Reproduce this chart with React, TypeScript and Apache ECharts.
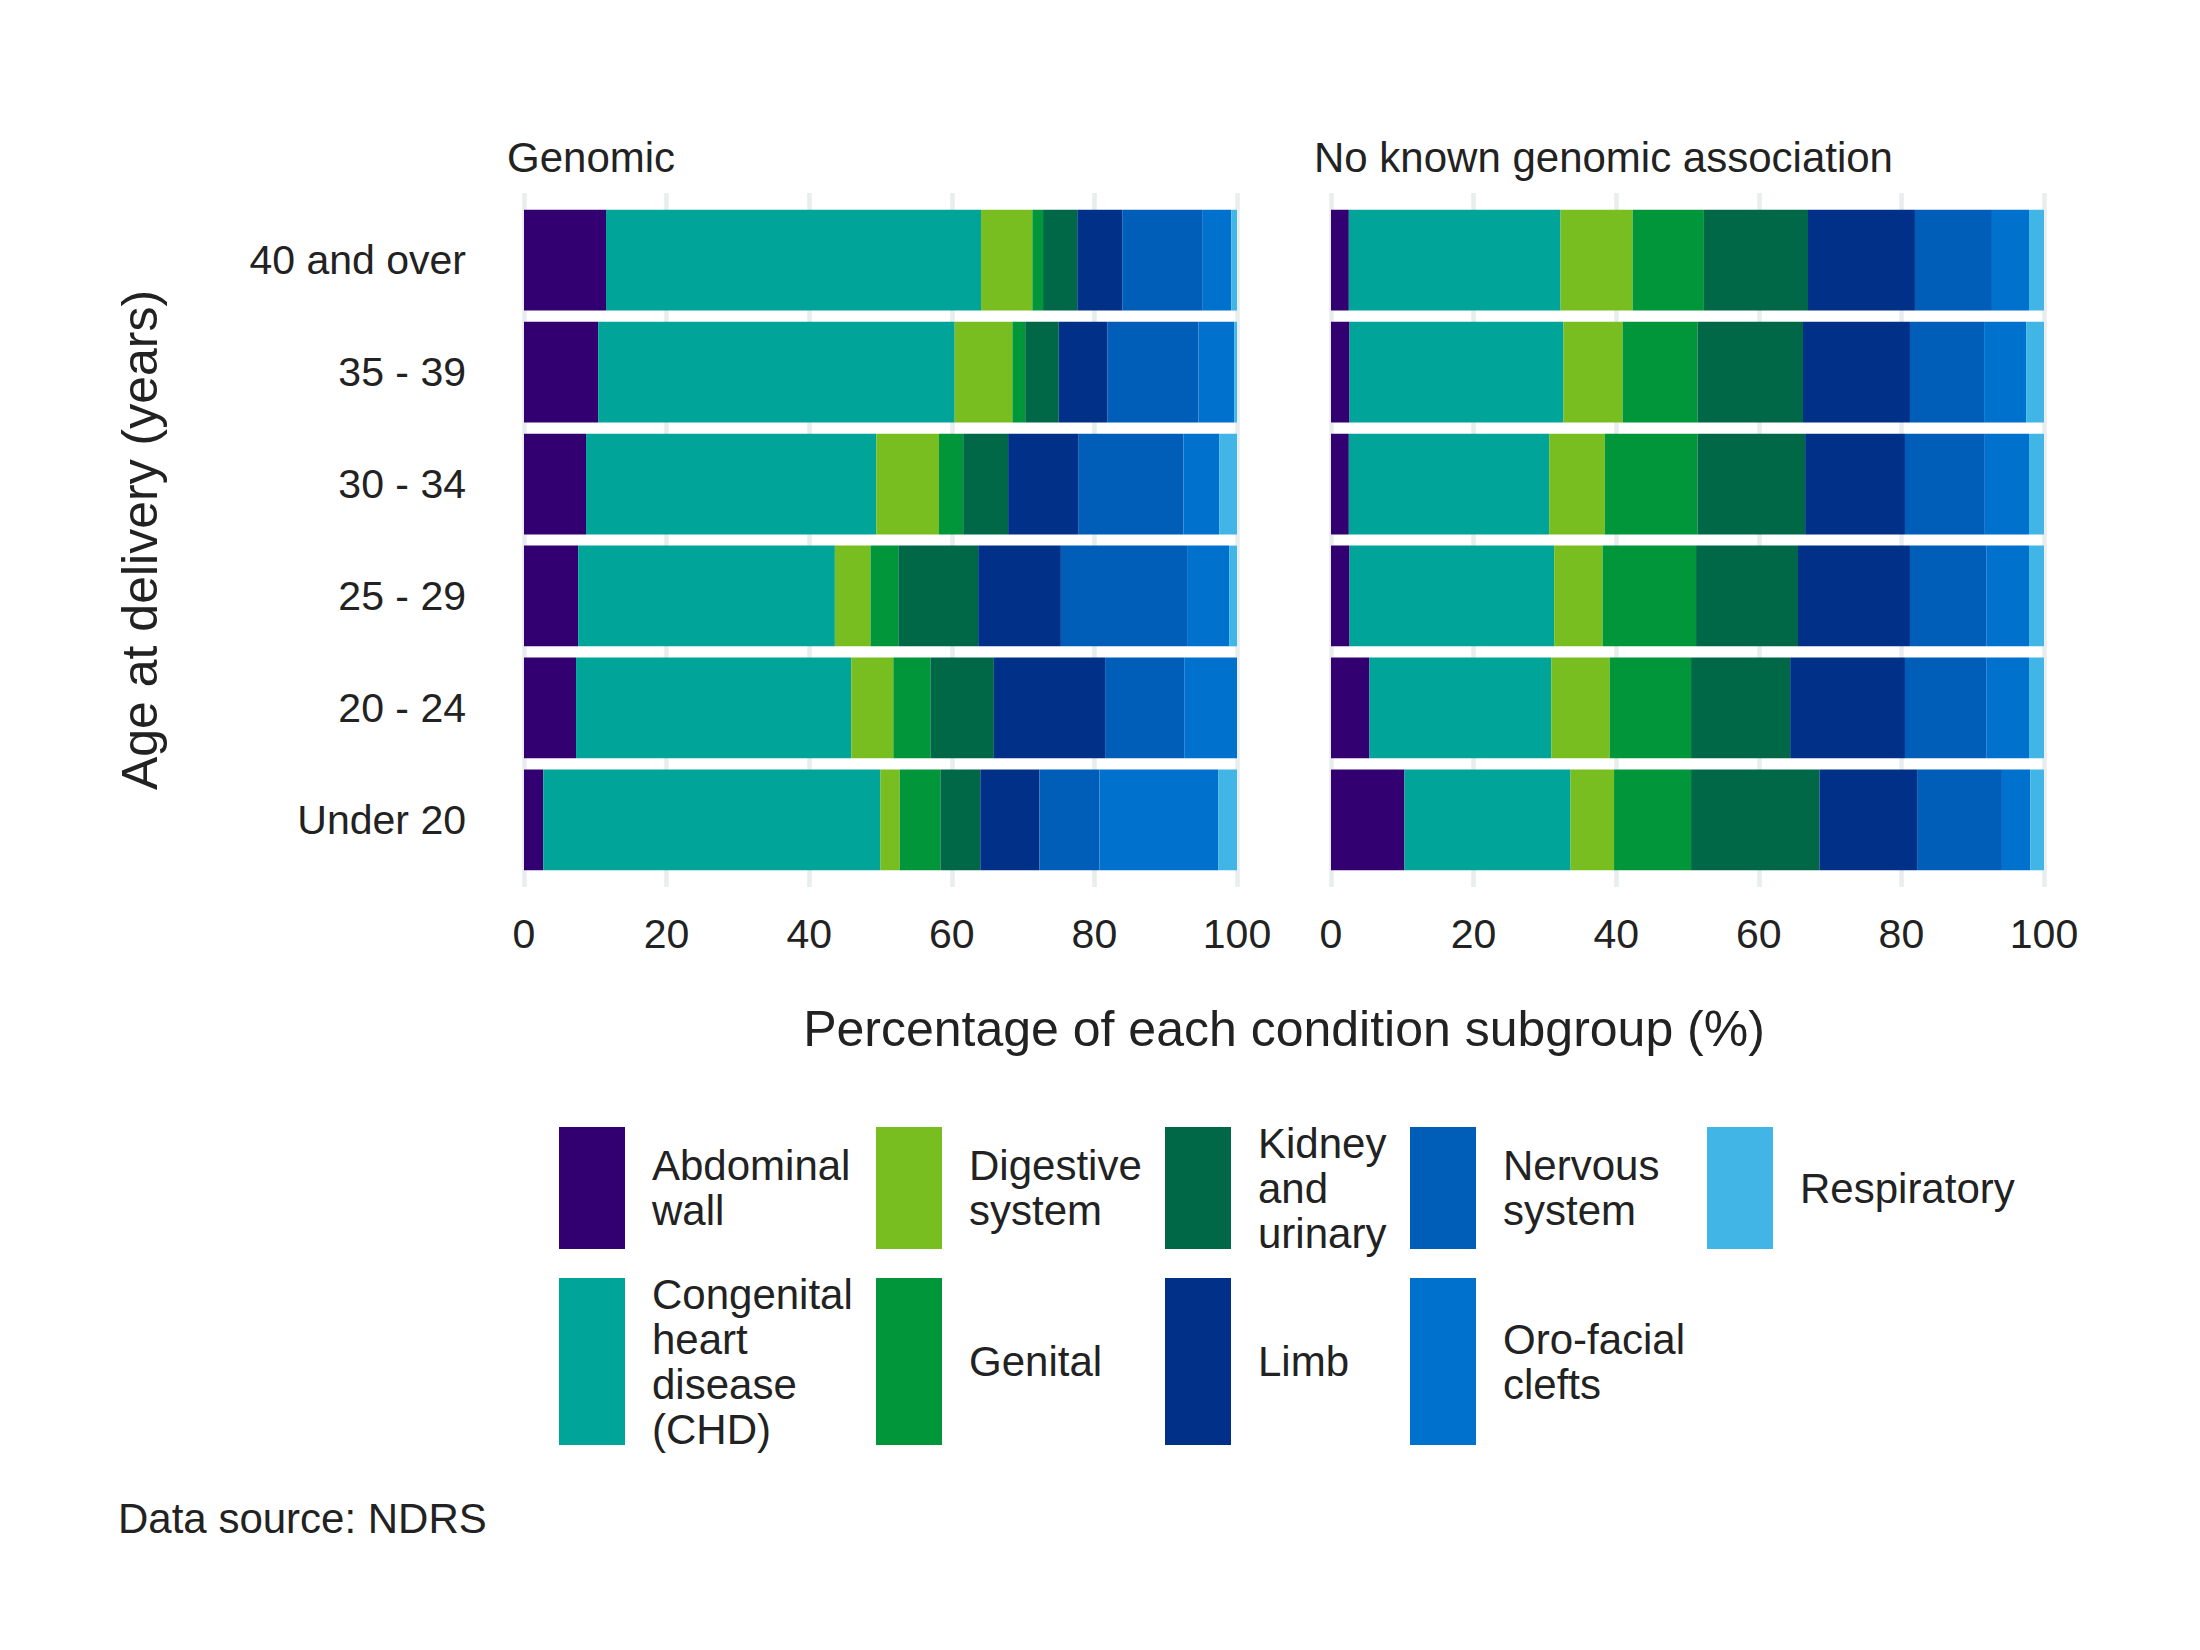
import React, { useEffect, useRef } from 'react';
import * as echarts from 'echarts';

// Age groups, top to bottom
const ageGroups = ['40 and over', '35 - 39', '30 - 34', '25 - 29', '20 - 24', 'Under 20'];

const panelTitles = ['Genomic', 'No known genomic association'];

const conditions = [
  'Abdominal wall',
  'Congenital heart disease (CHD)',
  'Digestive system',
  'Genital',
  'Kidney and urinary',
  'Limb',
  'Nervous system',
  'Oro-facial clefts',
  'Respiratory',
];

const legendLabels = [
  'Abdominal\nwall',
  'Congenital\nheart\ndisease\n(CHD)',
  'Digestive\nsystem',
  'Genital',
  'Kidney\nand\nurinary',
  'Limb',
  'Nervous\nsystem',
  'Oro-facial\nclefts',
  'Respiratory',
];

const conditionColours = [
  '#330072', '#00A499', '#78BE20', '#009639', '#006747',
  '#003087', '#005EB8', '#0072CE', '#41B6E6',
];

// % of each condition subgroup, one row per age group, columns follow `conditions`
const genomicShares = [
  [11.5, 52.6, 7.2, 1.5, 4.8, 6.3, 11.3, 4.0, 0.8],
  [10.4, 50.0, 8.1, 1.8, 4.7, 6.8, 12.8, 5.0, 0.4],
  [8.7, 40.7, 8.8, 3.4, 6.3, 9.9, 14.7, 5.0, 2.5],
  [7.6, 36.0, 5.0, 3.9, 11.2, 11.6, 17.7, 5.9, 1.1],
  [7.3, 38.6, 5.9, 5.2, 8.9, 15.6, 11.1, 7.4, 0],
  [2.7, 47.3, 2.7, 5.7, 5.6, 8.3, 8.4, 16.7, 2.6],
];

const noGenomicShares = [
  [2.5, 29.7, 10.1, 10.0, 14.6, 15.0, 10.8, 5.2, 2.1],
  [2.6, 30.0, 8.3, 10.5, 14.8, 15.0, 10.4, 5.9, 2.5],
  [2.5, 28.1, 7.8, 13.0, 15.1, 14.0, 11.2, 6.2, 2.1],
  [2.6, 28.7, 6.8, 13.1, 14.3, 15.7, 10.7, 6.0, 2.1],
  [5.4, 25.5, 8.2, 11.4, 13.9, 16.1, 11.4, 6.0, 2.1],
  [10.3, 23.3, 6.1, 10.8, 18.0, 13.7, 11.9, 4.0, 1.9],
];

const xTicks = [0, 20, 40, 60, 80, 100];

const FONT = "'Liberation Sans', Arial, Helvetica, sans-serif";
const TEXT = '#222222';

const App: React.FC = () => {
  const chartRef = useRef<HTMLDivElement>(null);

  useEffect(() => {
    const chart = echarts.init(chartRef.current, null, { renderer: 'svg' });
    const shares = [genomicShares, noGenomicShares];

    // layout
    const panelLeft = [524, 1331];
    const panelWidth = 713;
    const gridTop = 193;
    const gridHeight = 694;
    // bars sit inside the plot with ggplot-like expansion of 0.6 band at each end
    const band = gridHeight / (ageGroups.length + 0.2);
    const barTop = gridTop + band * 0.1;
    const barHeight = band * ageGroups.length;

    const grid: any[] = [];
    const xAxis: any[] = [];
    const yAxis: any[] = [];

    // bar grids (0, 1)
    panelLeft.forEach((left, p) => {
      grid.push({ left, width: panelWidth, top: barTop, height: barHeight });
      xAxis.push({
        type: 'value', gridIndex: p, min: 0, max: 100, interval: 20, show: false,
      });
      yAxis.push({
        type: 'category',
        gridIndex: p,
        data: ageGroups,
        inverse: true,
        axisLine: { show: false },
        axisTick: { show: false },
        splitLine: { show: false },
        axisLabel: {
          show: p === 0,
          margin: 58,
          fontSize: 41,
          fontFamily: FONT,
          color: TEXT,
        },
      });
    });

    // grid-line grids (2, 3)
    panelLeft.forEach((left, p) => {
      grid.push({ left, width: panelWidth, top: gridTop, height: gridHeight });
      xAxis.push({
        type: 'value',
        gridIndex: p + 2,
        min: xTicks[0],
        max: xTicks[xTicks.length - 1],
        interval: xTicks[1] - xTicks[0],
        axisLine: { show: false },
        axisTick: { show: false },
        splitLine: { show: true, lineStyle: { color: '#E8EDEE', width: 4.5 } },
        axisLabel: {
          margin: 26,
          fontSize: 41,
          fontFamily: FONT,
          color: TEXT,
        },
      });
      yAxis.push({ type: 'category', gridIndex: p + 2, data: ageGroups, show: false });
    });

    const series: any[] = [];
    shares.forEach((rows, p) => {
      conditions.forEach((name, c) => {
        series.push({
          type: 'bar',
          name,
          stack: `panel${p}`,
          xAxisIndex: p,
          yAxisIndex: p,
          barCategoryGap: '10%',
          silent: true,
          itemStyle: { color: conditionColours[c] },
          data: rows.map((r) => r[c]),
        });
      });
    });

    // legend drawn by hand: 2 rows, filled column by column
    const legendColX = [559, 876, 1165, 1410, 1707];
    const legendRowTop = [1127, 1278];
    const legendRowH = [122, 167];
    const keyW = 66;
    const textOffset = 93;
    const legendItems: any[] = [];
    conditions.forEach((_, i) => {
      const col = Math.floor(i / 2);
      const row = i % 2;
      const x = legendColX[col];
      const top = legendRowTop[row];
      const h = legendRowH[row];
      legendItems.push({
        type: 'rect',
        shape: { x, y: top, width: keyW, height: h },
        style: { fill: conditionColours[i] },
      });
      legendItems.push({
        type: 'text',
        x: x + textOffset,
        y: top + h / 2,
        style: {
          text: legendLabels[i],
          font: `42px ${FONT}`,
          fill: TEXT,
          lineHeight: 45,
          align: 'left',
          verticalAlign: 'middle',
        },
      });
    });

    const stripTitles = panelTitles.map((t, p) => ({
      type: 'text',
      x: panelLeft[p] - 17,
      y: 157,
      style: {
        text: t,
        font: `42px ${FONT}`,
        fill: TEXT,
        align: 'left',
        verticalAlign: 'middle',
      },
    }));

    const option = {
      animation: false,
      backgroundColor: '#ffffff',
      grid,
      xAxis,
      yAxis,
      series,
      graphic: [
        ...stripTitles,
        {
          type: 'text',
          x: (panelLeft[0] + panelLeft[1] + panelWidth) / 2,
          y: 1029,
          style: {
            text: 'Percentage of each condition subgroup (%)',
            font: `50px ${FONT}`,
            fill: TEXT,
            align: 'center',
            verticalAlign: 'middle',
          },
        },
        {
          type: 'text',
          x: 140,
          y: gridTop + gridHeight / 2,
          rotation: Math.PI / 2,
          style: {
            text: 'Age at delivery (years)',
            font: `50px ${FONT}`,
            fill: TEXT,
            align: 'center',
            verticalAlign: 'middle',
          },
        },
        ...legendItems,
        {
          type: 'text',
          x: 118,
          y: 1518,
          style: {
            text: 'Data source: NDRS',
            font: `42px ${FONT}`,
            fill: TEXT,
            align: 'left',
            verticalAlign: 'middle',
          },
        },
      ],
    };

    chart.setOption(option);
    return () => {
      chart.dispose();
    };
  }, []);

  return (
    <div
      ref={chartRef}
      style={{ position: 'fixed', left: 0, top: 0, width: 2200, height: 1650 }}
    />
  );
};

export default App;
